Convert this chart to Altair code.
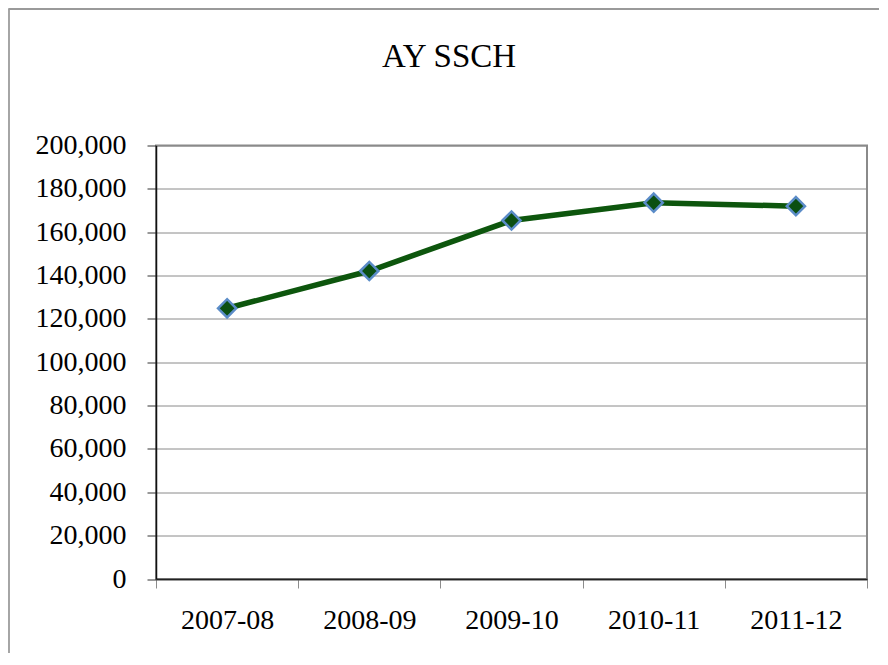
import altair as alt
import pandas as pd

years = ["2007-08", "2008-09", "2009-10", "2010-11", "2011-12"]
ssch = [124900, 142100, 165400, 173600, 172000]
y_ticks = [0, 20000, 40000, 60000, 80000, 100000, 120000, 140000, 160000, 180000, 200000]
title_text = "AY SSCH"

df = pd.DataFrame({"year": years, "ssch": ssch})

FONT = "Liberation Serif"
W, H = 711, 433.5

x_enc = alt.X(
    "year:N",
    sort=years,
    scale=alt.Scale(type="band", paddingInner=0, paddingOuter=0),
    axis=alt.Axis(
        title=None,
        labelAngle=0,
        labelFont=FONT,
        labelFontSize=28,
        labelColor="black",
        labelPadding=18,
        tickBand="extent",
        tickSize=9,
        tickColor="#8c8c8c",
        domainColor="#222222",
        domainWidth=1.5,
        grid=False,
    ),
)
y_enc = alt.Y(
    "ssch:Q",
    scale=alt.Scale(domain=[0, 200000], nice=False),
    axis=alt.Axis(
        title=None,
        values=y_ticks,
        format=",d",
        labelFont=FONT,
        labelFontSize=28,
        labelColor="black",
        labelPadding=21,
        tickSize=9,
        tickColor="#333333",
        domainColor="#111111",
        domainWidth=1.5,
        grid=True,
        gridColor="#8a8a8a",
        gridWidth=1,
    ),
)

base = alt.Chart(df)
line = base.mark_line(color="#0d560d", strokeWidth=5.5).encode(x=x_enc, y=y_enc)
pts = base.mark_point(
    shape="diamond", size=330, filled=True, fill="#0b4f12", stroke="#5b8cc8",
    strokeWidth=2.5, opacity=1
).encode(x=x_enc, y=y_enc)

one = alt.Chart(pd.DataFrame({"a": [0]}))
frame_left = one.mark_rule(color="#6a6a6a", strokeWidth=1.2).encode(
    x=alt.value(-147), y=alt.value(-137), y2=alt.value(540)
)
frame_top = one.mark_rule(color="#9a9a9a", strokeWidth=1.8).encode(
    x=alt.value(-147.5), x2=alt.value(760), y=alt.value(-136.5)
)
title = one.mark_text(
    text=title_text, font=FONT, fontSize=33, color="black",
    align="center", baseline="middle"
).encode(x=alt.value(449 - 156), y=alt.value(57 - 145.5))

chart = alt.layer(frame_left, frame_top, title, line, pts).properties(
    width=W,
    height=H,
    autosize=alt.AutoSizeParams(type="none"),
    padding={"left": 148, "top": 137.5, "right": 12, "bottom": 74},
).configure_view(stroke="#8a8a8a", strokeWidth=2)

chart.save("out.html", embed_options={"renderer": "svg", "actions": False})
